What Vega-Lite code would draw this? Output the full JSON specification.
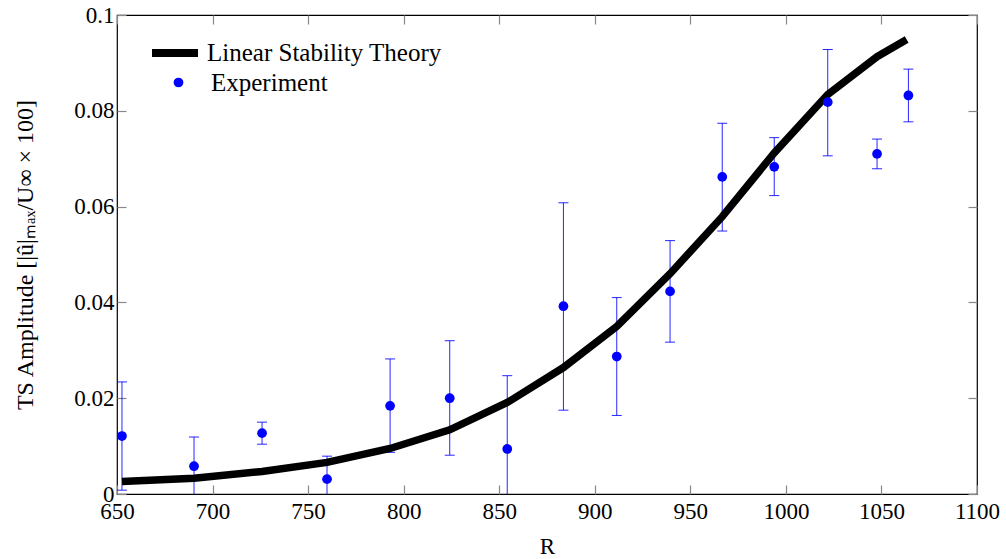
{
  "$schema": "https://vega.github.io/schema/vega-lite/v6.json",
  "width": 860,
  "height": 479,
  "autosize": {"type": "none"},
  "padding": {"left": 117, "top": 15, "right": 29, "bottom": 65},
  "background": "white",
  "config": {
    "view": {"stroke": "black", "strokeWidth": 1.2},
    "font": "Liberation Serif",
    "axis": {
      "labelFont": "Liberation Serif",
      "titleFont": "Liberation Serif",
      "labelFontSize": 23,
      "titleFontSize": 23,
      "labelColor": "black",
      "titleColor": "black",
      "titleFontWeight": "normal",
      "grid": false,
      "domain": false,
      "tickColor": "#888888",
      "tickWidth": 1.2,
      "tickSize": -9
    },
    "legend": {"labelFont": "Liberation Serif", "labelFontSize": 25, "labelColor": "black", "labelLimit": 0}
  },
  "datasets": {
    "exp": [
      {"R": 652.6, "amp": 0.0121, "lo": 0.0008, "hi": 0.0234},
      {"R": 690.3, "amp": 0.0058, "lo": -0.0004, "hi": 0.0119},
      {"R": 725.9, "amp": 0.0127, "lo": 0.0104, "hi": 0.0150},
      {"R": 759.9, "amp": 0.0031, "lo": -0.0015, "hi": 0.0079},
      {"R": 792.9, "amp": 0.0184, "lo": 0.0087, "hi": 0.0282},
      {"R": 824.1, "amp": 0.0200, "lo": 0.0081, "hi": 0.0320},
      {"R": 854.2, "amp": 0.0094, "lo": -0.0060, "hi": 0.0247},
      {"R": 883.6, "amp": 0.0392, "lo": 0.0175, "hi": 0.0608},
      {"R": 911.5, "amp": 0.0287, "lo": 0.0164, "hi": 0.0410},
      {"R": 939.4, "amp": 0.0423, "lo": 0.0317, "hi": 0.0529},
      {"R": 966.7, "amp": 0.0662, "lo": 0.0549, "hi": 0.0774},
      {"R": 993.9, "amp": 0.0683, "lo": 0.0623, "hi": 0.0744},
      {"R": 1021.9, "amp": 0.0818, "lo": 0.0706, "hi": 0.0928},
      {"R": 1047.7, "amp": 0.0710, "lo": 0.0679, "hi": 0.0741},
      {"R": 1064.1, "amp": 0.0832, "lo": 0.0777, "hi": 0.0887}
    ],
    "theory": [
      {"R": 652.6, "amp": 0.0026},
      {"R": 690.3, "amp": 0.0033},
      {"R": 725.9, "amp": 0.0047},
      {"R": 759.9, "amp": 0.0066},
      {"R": 792.9, "amp": 0.0095},
      {"R": 824.1, "amp": 0.0134},
      {"R": 854.2, "amp": 0.0191},
      {"R": 883.6, "amp": 0.0264},
      {"R": 911.5, "amp": 0.0350},
      {"R": 939.4, "amp": 0.0460},
      {"R": 966.7, "amp": 0.0579},
      {"R": 993.9, "amp": 0.0712},
      {"R": 1021.9, "amp": 0.0834},
      {"R": 1047.7, "amp": 0.0913},
      {"R": 1063.2, "amp": 0.0949}
    ]
  },
  "layer": [
    {
      "data": {"name": "exp"},
      "mark": {"type": "rule", "color": "blue", "strokeWidth": 1, "opacity": 0.85, "clip": true},
      "encoding": {
        "x": {"field": "R", "type": "quantitative",
              "scale": {"domain": [650, 1100], "nice": false, "zero": false},
              "axis": {"orient": "bottom", "values": [650, 700, 750, 800, 850, 900, 950, 1000, 1050, 1100], "format": "d", "title": "R", "labelPadding": 15, "titlePadding": 12, "labelFlush": false}},
        "y": {"field": "lo", "type": "quantitative",
              "scale": {"domain": [0, 0.1], "nice": false, "zero": false},
              "axis": {"orient": "left", "values": [0, 0.02, 0.04, 0.06, 0.08, 0.1], "format": "~g", "title": "TS Amplitude [|û|ₘₐₓ/U∞ × 100]", "titleFontSize": 24, "labelPadding": 12, "titlePadding": 36, "labelFlush": false}},
        "y2": {"field": "hi"}
      }
    },
    {
      "data": {"name": "exp"},
      "mark": {"type": "tick", "orient": "horizontal", "color": "blue", "size": 10, "thickness": 1, "opacity": 0.85, "clip": true},
      "encoding": {
        "x": {"field": "R", "type": "quantitative", "scale": {"domain": [650, 1100], "nice": false, "zero": false}, "axis": null},
        "y": {"field": "hi", "type": "quantitative", "scale": {"domain": [0, 0.1], "nice": false, "zero": false}, "axis": null}
      }
    },
    {
      "data": {"name": "exp"},
      "mark": {"type": "tick", "orient": "horizontal", "color": "blue", "size": 10, "thickness": 1, "opacity": 0.85, "clip": true},
      "encoding": {
        "x": {"field": "R", "type": "quantitative", "scale": {"domain": [650, 1100], "nice": false, "zero": false}, "axis": null},
        "y": {"field": "lo", "type": "quantitative", "scale": {"domain": [0, 0.1], "nice": false, "zero": false}, "axis": null}
      }
    },
    {
      "data": {"name": "theory"},
      "transform": [{"calculate": "'Linear Stability Theory'", "as": "series"}],
      "mark": {"type": "line", "strokeWidth": 7.5, "strokeJoin": "miter", "strokeCap": "butt"},
      "encoding": {
        "x": {"field": "R", "type": "quantitative",
              "scale": {"domain": [650, 1100], "nice": false, "zero": false},
              "axis": {"orient": "top", "values": [650, 700, 750, 800, 850, 900, 950, 1000, 1050, 1100], "labels": false, "title": null}},
        "y": {"field": "amp", "type": "quantitative",
              "scale": {"domain": [0, 0.1], "nice": false, "zero": false},
              "axis": {"orient": "right", "values": [0, 0.02, 0.04, 0.06, 0.08, 0.1], "labels": false, "title": null}},
        "stroke": {"field": "series", "type": "nominal",
                   "scale": {"domain": ["Linear Stability Theory"], "range": ["black"]},
                   "legend": {"orient": "none", "legendX": 31, "legendY": 11, "title": null, "padding": 0,
                              "symbolType": "stroke", "symbolStrokeWidth": 8, "symbolSize": 2116, "labelOffset": 5}}
      }
    },
    {
      "data": {"name": "exp"},
      "transform": [{"calculate": "'Experiment'", "as": "kind"}],
      "mark": {"type": "point", "filled": true, "size": 95, "opacity": 1},
      "encoding": {
        "x": {"field": "R", "type": "quantitative", "scale": {"domain": [650, 1100], "nice": false, "zero": false}, "axis": null},
        "y": {"field": "amp", "type": "quantitative", "scale": {"domain": [0, 0.1], "nice": false, "zero": false}, "axis": null},
        "fill": {"field": "kind", "type": "nominal",
                 "scale": {"domain": ["Experiment"], "range": ["blue"]},
                 "legend": {"orient": "none", "legendX": 49, "legendY": 55, "title": null, "padding": 0,
                            "symbolType": "circle", "symbolSize": 95, "symbolOpacity": 1, "labelOffset": 20}}
      }
    }
  ],
  "resolve": {"axis": {"x": "independent", "y": "independent"}}
}
